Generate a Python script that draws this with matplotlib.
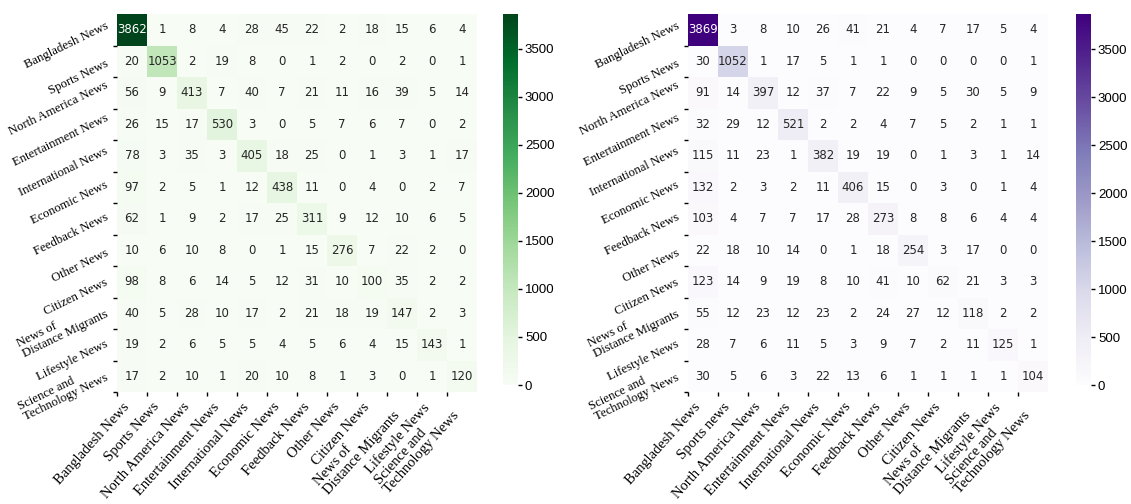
import numpy as np
import matplotlib
matplotlib.use("Agg")
import matplotlib.pyplot as plt
import seaborn as sns


CLASSES = [
    "Bangladesh News", "Sports News", "North America News", "Entertainment News",
    "International News", "Economic News", "Feedback News", "Other News",
    "Citizen News", "News of\nDistance Migrants", "Lifestyle News",
    "Science and\nTechnology News",
]
CLASSES_RIGHT_X = ["Sports news" if c == "Sports News" else c for c in CLASSES]

CM_LEFT = [
    [3862, 1, 8, 4, 28, 45, 22, 2, 18, 15, 6, 4],
    [20, 1053, 2, 19, 8, 0, 1, 2, 0, 2, 0, 1],
    [56, 9, 413, 7, 40, 7, 21, 11, 16, 39, 5, 14],
    [26, 15, 17, 530, 3, 0, 5, 7, 6, 7, 0, 2],
    [78, 3, 35, 3, 405, 18, 25, 0, 1, 3, 1, 17],
    [97, 2, 5, 1, 12, 438, 11, 0, 4, 0, 2, 7],
    [62, 1, 9, 2, 17, 25, 311, 9, 12, 10, 6, 5],
    [10, 6, 10, 8, 0, 1, 15, 276, 7, 22, 2, 0],
    [98, 8, 6, 14, 5, 12, 31, 10, 100, 35, 2, 2],
    [40, 5, 28, 10, 17, 2, 21, 18, 19, 147, 2, 3],
    [19, 2, 6, 5, 5, 4, 5, 6, 4, 15, 143, 1],
    [17, 2, 10, 1, 20, 10, 8, 1, 3, 0, 1, 120],
]

CM_RIGHT = [
    [3869, 3, 8, 10, 26, 41, 21, 4, 7, 17, 5, 4],
    [30, 1052, 1, 17, 5, 1, 1, 0, 0, 0, 0, 1],
    [91, 14, 397, 12, 37, 7, 22, 9, 5, 30, 5, 9],
    [32, 29, 12, 521, 2, 2, 4, 7, 5, 2, 1, 1],
    [115, 11, 23, 1, 382, 19, 19, 0, 1, 3, 1, 14],
    [132, 2, 3, 2, 11, 406, 15, 0, 3, 0, 1, 4],
    [103, 4, 7, 7, 17, 28, 273, 8, 8, 6, 4, 4],
    [22, 18, 10, 14, 0, 1, 18, 254, 3, 17, 0, 0],
    [123, 14, 9, 19, 8, 10, 41, 10, 62, 21, 3, 3],
    [55, 12, 23, 12, 23, 2, 24, 27, 12, 118, 2, 2],
    [28, 7, 6, 11, 5, 3, 9, 7, 2, 11, 125, 1],
    [30, 5, 6, 3, 22, 13, 6, 1, 1, 1, 1, 104],
]

CBAR_TICKS = [0, 500, 1000, 1500, 2000, 2500, 3000, 3500]


def draw_cm(fig, rect, cbar_rect, cm, cmap, xlabels, ylabels):
    ax = fig.add_axes(rect)
    cax = fig.add_axes(cbar_rect)
    cm = np.array(cm)
    n = cm.shape[0]
    sns.heatmap(cm, annot=True, fmt="d", cmap=cmap, ax=ax, cbar_ax=cax,
                annot_kws={"fontsize": 8.5, "family": "DejaVu Sans"},
                vmin=0, vmax=cm.max())

    # tick marks on the cell edges, x labels under the cell centres
    ax.set_xticks(np.arange(n))
    ax.set_xticklabels([])
    ax.set_xticks(np.arange(n) + 0.5, minor=True)
    ax.set_xticklabels(xlabels, minor=True, rotation=48, ha="right",
                       multialignment="left", fontsize=10.5,
                       family="Liberation Serif", linespacing=1.0)
    ax.tick_params(axis="x", which="minor", length=0, pad=6)

    ax.set_yticks(np.arange(n) + 1)
    ax.set_yticklabels(ylabels, rotation=26, ha="right", va="center",
                       multialignment="left", fontsize=9.2,
                       family="Liberation Serif", linespacing=1.0)
    ax.tick_params(which="major", length=3, width=1, pad=2)

    cax.set_yticks(CBAR_TICKS)
    cax.tick_params(length=3, width=1, labelsize=9.5, pad=2)
    for t in cax.get_yticklabels():
        t.set_family("Liberation Sans")
    return ax


fig = plt.figure(figsize=(11.31, 5.04), dpi=100)
W, H = 1131, 504

draw_cm(fig, [117 / W, 1 - 392 / H, 360 / W, 378 / H],
        [503 / W, 1 - 385 / H, 15 / W, 371 / H],
        CM_LEFT, "Greens", CLASSES, CLASSES)
draw_cm(fig, [688 / W, 1 - 392 / H, 360 / W, 378 / H],
        [1076 / W, 1 - 385 / H, 15 / W, 371 / H],
        CM_RIGHT, "Purples", CLASSES_RIGHT_X, CLASSES)

fig.savefig("out.png", dpi=100)
